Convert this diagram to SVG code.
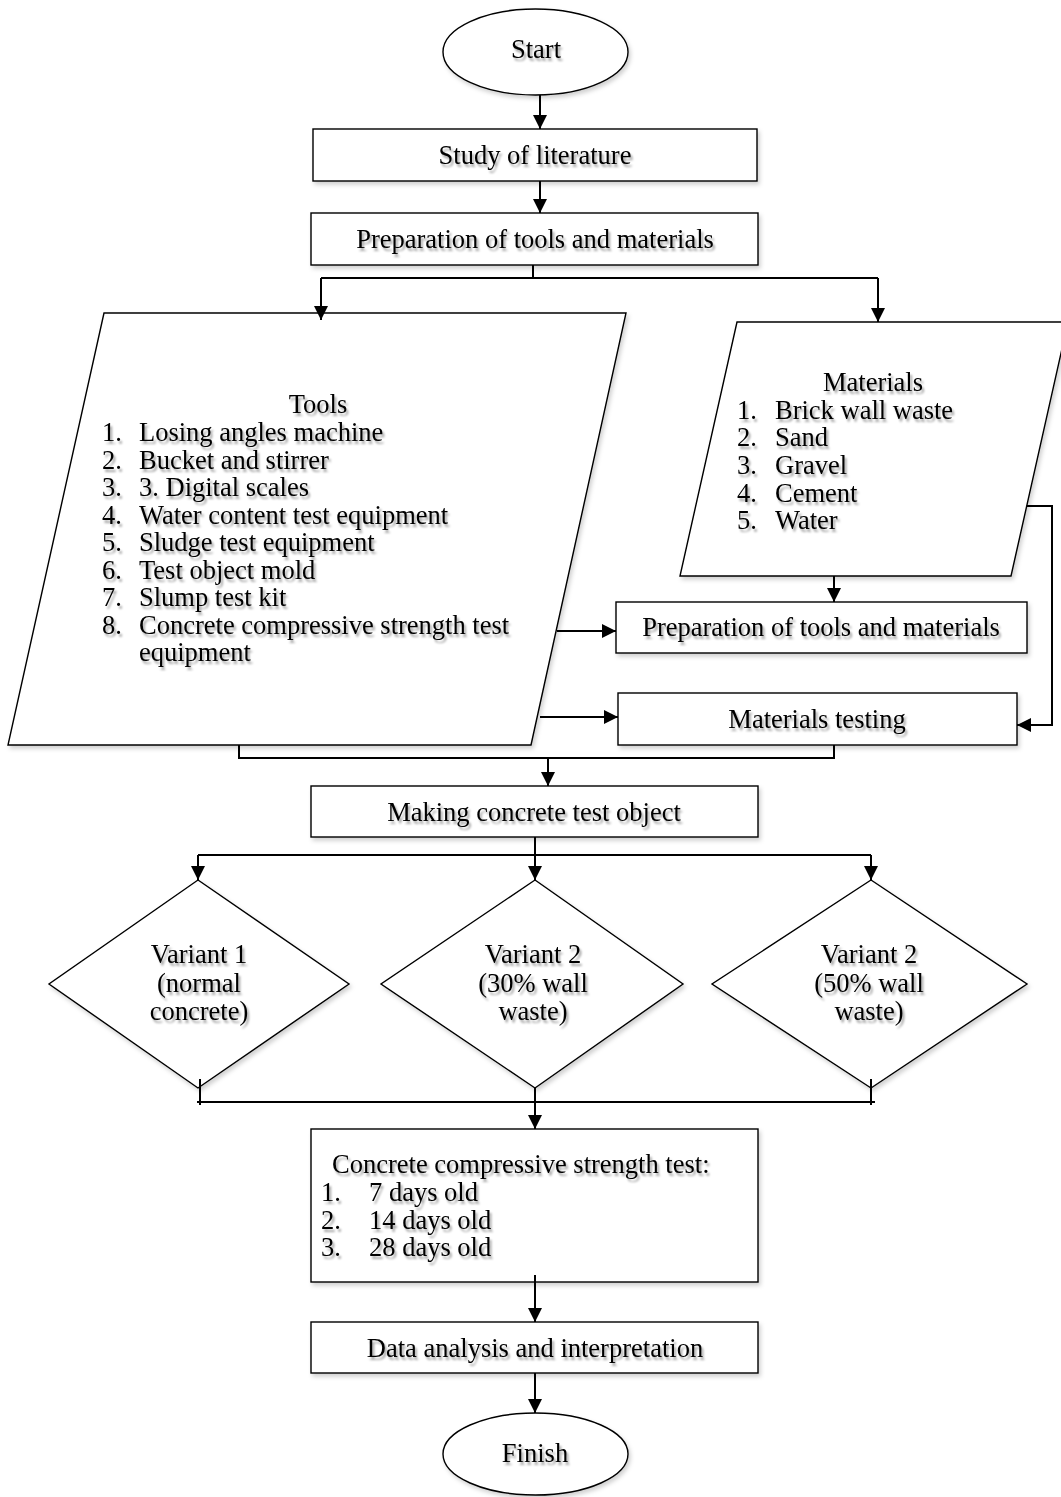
<svg xmlns="http://www.w3.org/2000/svg" width="1061" height="1497" viewBox="0 0 1061 1497">
<style>
.shape{fill:#fff;stroke:#000;stroke-width:1.4;filter:url(#shs)}
.conn{fill:none;stroke:#000;stroke-width:2}
text{font-family:"Liberation Serif","Times New Roman",serif;font-size:26.5px;fill:#000;filter:url(#ts)}
.c{text-anchor:middle}
</style>
<defs>
<filter id="ts" x="-10%" y="-30%" width="130%" height="180%">
<feDropShadow dx="2" dy="3" stdDeviation="1.3" flood-color="#000" flood-opacity="0.35"/>
</filter>
<filter id="shs" x="-5%" y="-5%" width="115%" height="120%">
<feDropShadow dx="2" dy="3" stdDeviation="2" flood-color="#000" flood-opacity="0.18"/>
</filter>
<marker id="ah" viewBox="0 0 14 14" refX="14" refY="7" markerWidth="14" markerHeight="14" markerUnits="userSpaceOnUse" orient="auto">
<path d="M0,0 L14,7 L0,14 Z" fill="#000"/>
</marker>
</defs>
<rect width="1061" height="1497" fill="#fff"/>

<g id="start">
<ellipse class="shape" cx="535.5" cy="52" rx="92.5" ry="43"/>
<text class="c" x="536" y="58">Start</text>
</g>
<g id="study">
<rect class="shape" x="313" y="129" width="444" height="52"/>
<text class="c" x="535" y="164">Study of literature</text>
</g>
<g id="prep1">
<rect class="shape" x="311" y="213" width="447" height="52"/>
<text class="c" x="535" y="248">Preparation of tools and materials</text>
</g>
<g id="tools">
<polygon class="shape" points="104,313 626,313 531,745 8,745"/>
<text class="c" x="318" y="413">Tools</text>
<text x="102" y="441">1.</text><text x="139" y="441">Losing angles machine</text>
<text x="102" y="469">2.</text><text x="139" y="469">Bucket and stirrer</text>
<text x="102" y="496">3.</text><text x="139" y="496">3. Digital scales</text>
<text x="102" y="524">4.</text><text x="139" y="524">Water content test equipment</text>
<text x="102" y="551">5.</text><text x="139" y="551">Sludge test equipment</text>
<text x="102" y="579">6.</text><text x="139" y="579">Test object mold</text>
<text x="102" y="606">7.</text><text x="139" y="606">Slump test kit</text>
<text x="102" y="634">8.</text><text x="139" y="634">Concrete compressive strength test</text>
<text x="139" y="661">equipment</text>
</g>
<g id="materials">
<polygon class="shape" points="737,322 1068,322 1011,576 680,576"/>
<text class="c" x="873" y="391">Materials</text>
<text x="737" y="419">1.</text><text x="775" y="419">Brick wall waste</text>
<text x="737" y="446">2.</text><text x="775" y="446">Sand</text>
<text x="737" y="474">3.</text><text x="775" y="474">Gravel</text>
<text x="737" y="502">4.</text><text x="775" y="502">Cement</text>
<text x="737" y="529">5.</text><text x="775" y="529">Water</text>
</g>
<g id="prep2">
<rect class="shape" x="616" y="602" width="411" height="51"/>
<text class="c" x="821" y="636">Preparation of tools and materials</text>
</g>
<g id="mattest">
<rect class="shape" x="618" y="693" width="399" height="52"/>
<text class="c" x="817" y="728">Materials testing</text>
</g>
<g id="making">
<rect class="shape" x="311" y="786" width="447" height="51"/>
<text class="c" x="534" y="821">Making concrete test object</text>
</g>
<g id="variant1">
<polygon class="shape" points="198,880 349,984 198,1088 49,984"/>
<text class="c" x="199" y="963">Variant 1</text>
<text class="c" x="199" y="992">(normal</text>
<text class="c" x="199" y="1020">concrete)</text>
</g>
<g id="variant2">
<polygon class="shape" points="535,880 683,984 535,1088 381,984"/>
<text class="c" x="533" y="963">Variant 2</text>
<text class="c" x="533" y="992">(30% wall</text>
<text class="c" x="533" y="1020">waste)</text>
</g>
<g id="variant3">
<polygon class="shape" points="871,880 1027,984 871,1088 712,984"/>
<text class="c" x="869" y="963">Variant 2</text>
<text class="c" x="869" y="992">(50% wall</text>
<text class="c" x="869" y="1020">waste)</text>
</g>
<g id="compressive">
<rect class="shape" x="311" y="1129" width="447" height="153"/>
<text x="332" y="1173">Concrete compressive strength test:</text>
<text x="321" y="1201">1.</text><text x="369" y="1201">7 days old</text>
<text x="321" y="1229">2.</text><text x="369" y="1229">14 days old</text>
<text x="321" y="1256">3.</text><text x="369" y="1256">28 days old</text>
</g>
<g id="analysis">
<rect class="shape" x="311" y="1322" width="447" height="51"/>
<text class="c" x="535" y="1357">Data analysis and interpretation</text>
</g>
<g id="finish">
<ellipse class="shape" cx="535.5" cy="1454" rx="92.5" ry="41"/>
<text class="c" x="535" y="1462">Finish</text>
</g>

<g id="connectors">
<path class="conn" d="M540,95 V129" marker-end="url(#ah)"/>
<path class="conn" d="M540,181 V213" marker-end="url(#ah)"/>
<path class="conn" d="M533,265 V278"/>
<path class="conn" d="M321,278 H878"/>
<path class="conn" d="M321,278 V320" marker-end="url(#ah)"/>
<path class="conn" d="M878,278 V322" marker-end="url(#ah)"/>
<path class="conn" d="M834,576 V602" marker-end="url(#ah)"/>
<path class="conn" d="M557,631 H616" marker-end="url(#ah)"/>
<path class="conn" d="M540,717 H618" marker-end="url(#ah)"/>
<path class="conn" d="M1027,506 H1052 V725 H1017" marker-end="url(#ah)"/>
<path class="conn" d="M239,745 V758 H834 V745"/>
<path class="conn" d="M548,758 V786" marker-end="url(#ah)"/>
<path class="conn" d="M535,837 V855"/>
<path class="conn" d="M198,855 H871"/>
<path class="conn" d="M198,855 V880" marker-end="url(#ah)"/>
<path class="conn" d="M535,855 V880" marker-end="url(#ah)"/>
<path class="conn" d="M871,855 V880" marker-end="url(#ah)"/>
<path class="conn" d="M200,1079 V1105"/>
<path class="conn" d="M871,1079 V1105"/>
<path class="conn" d="M197,1102 H875"/>
<path class="conn" d="M535,1088 V1129" marker-end="url(#ah)"/>
<path class="conn" d="M535,1275 V1322" marker-end="url(#ah)"/>
<path class="conn" d="M535,1373 V1413" marker-end="url(#ah)"/>
</g>
</svg>
